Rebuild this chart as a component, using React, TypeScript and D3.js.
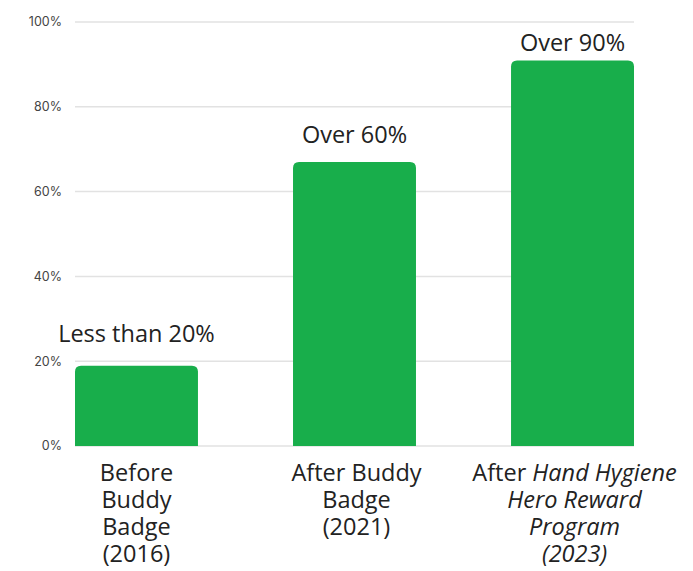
import React from 'react';
import { scaleBand, scaleLinear } from 'd3';

// chart values
const categories = ['Before Buddy Badge (2016)', 'After Buddy Badge (2021)', 'After Hand Hygiene Hero Reward Program (2023)'];
const values = [18.9, 67, 90.9];
const valueLabels = ['Less than 20%', 'Over 60%', 'Over 90%'];
const yTicks = [0, 20, 40, 60, 80, 100];

// label lines, each piece: [text, italic]
const categoryLines: [string, boolean][][][] = [
  [[['Before', false]], [['Buddy', false]], [['Badge', false]], [['(2016)', false]]],
  [[['After Buddy', false]], [['Badge', false]], [['(2021)', false]]],
  [[['After ', false], ['Hand Hygiene', true]], [['Hero Reward', true]], [['Program', true]], [['(2023)', true]]],
];

const W = 693;
const H = 571;
const GREEN = '#18ae4b';
const LABEL_FONT = '"Open Sans", Lato, sans-serif';
// gap between bar top and value label baseline (not the same for every bar in the original)
const labelGap = [24, 19, 10];

function topRoundedBar(x: number, y: number, w: number, h: number, r: number) {
  return `M${x},${y + h} L${x},${y + r} Q${x},${y} ${x + r},${y} L${x + w - r},${y} Q${x + w},${y} ${x + w},${y + r} L${x + w},${y + h} Z`;
}

export default function App() {
  const x = scaleBand<string>()
    .domain(categories)
    .range([75, 634])
    .paddingInner(0.436)
    .paddingOuter(0);

  const y = scaleLinear()
    .domain([0, 100])
    .range([446, 22]);

  return (
    <svg width={W} height={H} style={{ position: 'absolute', left: 0, top: 0, background: '#fff' }}>
      {/* grid + y labels */}
      {yTicks.map(t => (
        <g key={t}>
          <line x1={75} x2={634} y1={y(t)} y2={y(t)} stroke="#e2e2e2" strokeWidth={1.5} />
          <text x={62} y={y(t)} dy="0.35em" textAnchor="end"
            fontFamily="Inter, Roboto, sans-serif" fontSize={12.5} fill="#444">{t}%</text>
        </g>
      ))}

      {/* bars */}
      {categories.map((c, i) => {
        const bx = x(c)!;
        const by = y(values[i]);
        return (
          <path key={c} d={topRoundedBar(bx, by, x.bandwidth(), y(0) - by, 6)} fill={GREEN} />
        );
      })}

      {/* value labels */}
      {categories.map((c, i) => (
        <text key={c} x={x(c)! + x.bandwidth() / 2} y={y(values[i]) - labelGap[i]} textAnchor="middle"
          fontFamily={LABEL_FONT} fontSize={23.5} fill="#222">{valueLabels[i]}</text>
      ))}

      {/* category labels */}
      {categories.map((c, i) => (
        <text key={c} textAnchor="middle" fontFamily={LABEL_FONT} fontSize={23.5} fill="#222">
          {categoryLines[i].map((line, j) => (
            <tspan key={j} x={x(c)! + x.bandwidth() / 2 + (i === 0 ? 0 : 2)} y={481 + j * 27}>
              {line.map(([txt, it], k) => (
                <tspan key={k} fontStyle={it ? 'italic' : 'normal'}>{txt}</tspan>
              ))}
            </tspan>
          ))}
        </text>
      ))}
    </svg>
  );
}
